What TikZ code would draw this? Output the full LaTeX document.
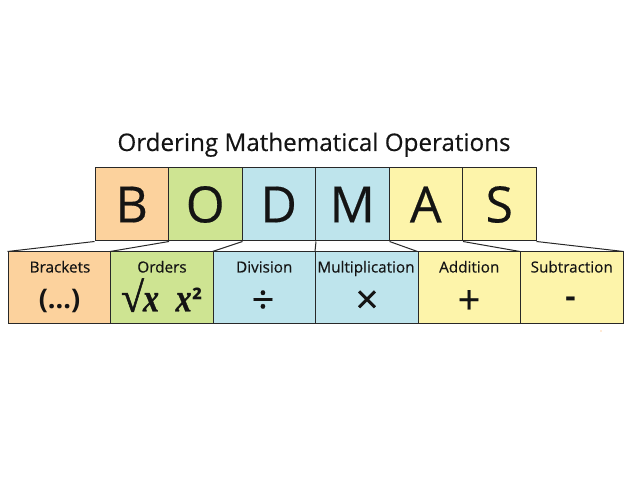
\documentclass[tikz,border=0pt]{standalone}
\usepackage{fontspec}
\setmainfont{Open Sans}
\newfontfamily\medfont[FakeBold=0.35]{Open Sans}
\newfontfamily\xfont[FakeStretch=0.8,FakeBold=0.8,UprightFont={* Bold Italic}]{Liberation Serif}
\newfontfamily\rootfont[FakeBold=1.2,UprightFont={* Bold}]{Liberation Serif}
\definecolor{cB}{RGB}{252,210,157}
\definecolor{cO}{RGB}{206,228,146}
\definecolor{cD}{RGB}{190,228,236}
\definecolor{cA}{RGB}{253,244,170}
\definecolor{linec}{RGB}{40,40,40}
\definecolor{txt}{RGB}{20,20,20}
\begin{document}
\begin{tikzpicture}[x=1pt,y=-1pt,
  topbox/.style={draw=linec, line width=1pt, minimum width=73.5pt, minimum height=73pt, inner sep=0pt, text=txt, font=\fontsize{50}{50}\selectfont\medfont},
  botbox/.style={draw=linec, line width=1pt, minimum width=102.5pt, minimum height=72pt, inner sep=0pt},
  lbl/.style={anchor=base, inner sep=0pt, text=txt, font=\fontsize{15.3}{15.3}\selectfont\medfont},
  sym/.style={inner sep=0pt, text=txt, font=\fontsize{40}{40}\selectfont\medfont},
  ser/.style={inner sep=0pt, anchor=base, text=txt},
  conn/.style={draw=linec, line width=1pt}]
\useasboundingbox (0,0) rectangle (625,500);
\node[anchor=base, inner sep=0pt, text=txt, font=\fontsize{24.2}{24.2}\selectfont\medfont] (title) at (314,151) {Ordering Mathematical Operations};
% top boxes
\node[topbox, fill=cB] (B) at (131.75,204.5) {B};
\node[topbox, fill=cO] (O) at (205.25,204.5) {O};
\node[topbox, fill=cD] (D) at (278.75,204.5) {D};
\node[topbox, fill=cD] (M) at (352.25,204.5) {M};
\node[topbox, fill=cA] (A) at (425.75,204.5) {A};
\node[topbox, fill=cA] (S) at (499.25,204.5) {S};
% bottom boxes
\node[botbox, fill=cB] (Bb) at (59.25,288) {};
\node[botbox, fill=cO] (Ob) at (161.75,288) {};
\node[botbox, fill=cD] (Db) at (264.25,288) {};
\node[botbox, fill=cD] (Mb) at (366.75,288) {};
\node[botbox, fill=cA] (Ab) at (469.25,288) {};
\node[botbox, fill=cA] (Sb) at (571.75,288) {};
% labels
\node[lbl] (Bl) at (60,272.5) {Brackets};
\node[lbl] (Ol) at (162,272.5) {Orders};
\node[lbl] (Dl) at (264.25,272.5) {Division};
\node[lbl] (Ml) at (366,272.5) {Multiplication};
\node[lbl] (Al) at (469.25,272.5) {Addition};
\node[lbl] (Sl) at (571.75,272.5) {Subtraction};
% symbols
\node[ser, font=\fontsize{27}{27}\selectfont\bfseries] (Bs) at (59.5,309) {(...)};
\node[ser] (Os1) at (140,311.5) {\fontsize{42}{42}\selectfont\rootfont √\kern-1pt\fontsize{40}{40}\selectfont\xfont x};
\node[ser] (Os2) at (189,311.5) {\fontsize{40}{40}\selectfont\xfont x\kern0.5pt\fontsize{27}{27}\selectfont\normalfont\bfseries\raisebox{4pt}{²}};
\node[sym] (Ds) at (263,302) {÷};
\node[sym] (Ms) at (367,302) {×};
\node[sym] (As) at (469,302) {+};
\node[sym, font=\fontsize{32}{32}\selectfont\bfseries] (Ss) at (570.5,302) {-};
% connectors
\draw[conn] (B.south west) -- (Bb.north west);
\draw[conn] (B.south east) -- (Ob.north west);
\draw[conn] (O.south east) -- (Db.north west);
\draw[conn] (D.south east) -- (Mb.north west);
\draw[conn] (M.south east) -- (Ab.north west);
\draw[conn] (A.south east) -- (Sb.north west);
\draw[conn] (S.south east) -- (Sb.north east);
\fill[orange!70] (601,331) circle (0.6pt);
\end{tikzpicture}
\end{document}
